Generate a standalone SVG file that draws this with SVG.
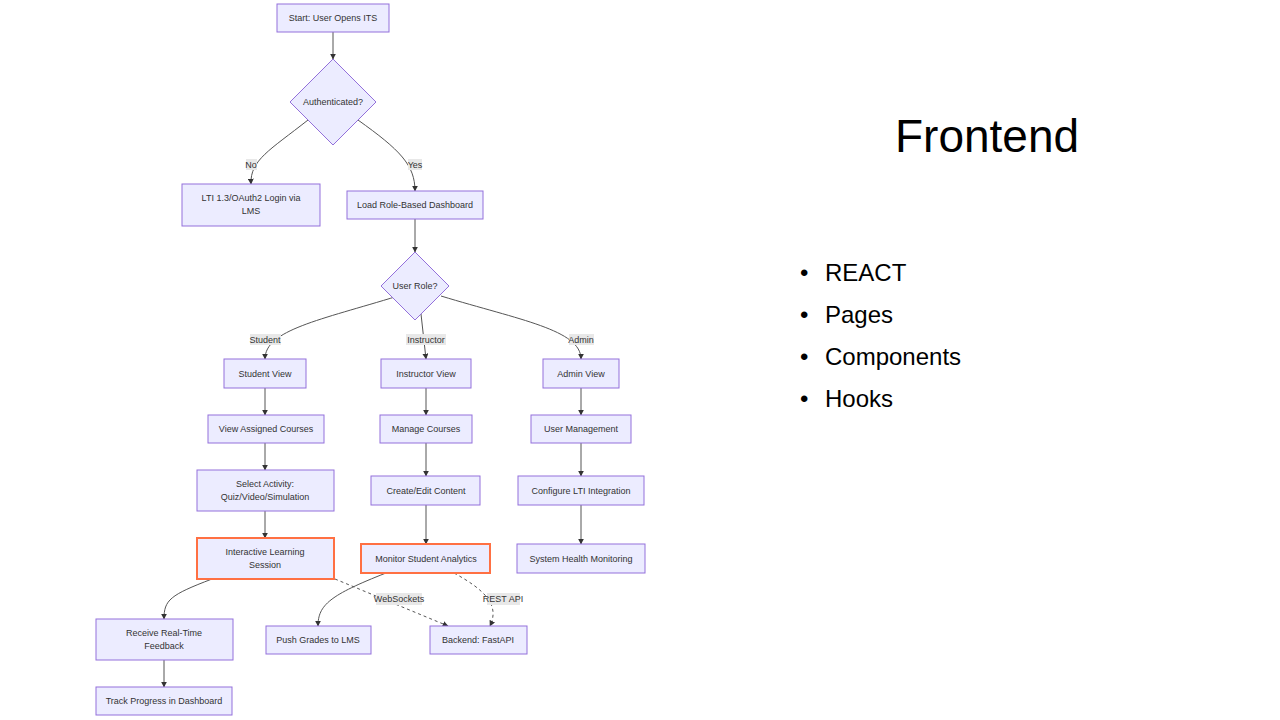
<svg xmlns="http://www.w3.org/2000/svg" width="1280" height="720" viewBox="0 0 1280 720">
<defs>
<style>
.n{fill:#ececff;stroke:#9370db;stroke-width:1}
.o{fill:#ececff;stroke:#ff7043;stroke-width:2}
text{font-family:"Liberation Sans",Arial,sans-serif;font-size:9px;fill:#333;text-anchor:middle}
.e{fill:none;stroke:#555;stroke-width:1;marker-end:url(#a)}
.d{stroke-dasharray:3,3}
.lb{fill:#e8e8e8}
text.big{font-family:"Liberation Sans",Arial,sans-serif;fill:#000;text-anchor:start;font-size:24px}
text.title{font-size:46px}
</style>
<marker id="a" viewBox="0 0 10 10" refX="9" refY="5" markerWidth="6" markerHeight="6" orient="auto"><path d="M0,0L10,5L0,10z" fill="#333"/></marker>
</defs>
<rect width="1280" height="720" fill="#fff"/>
<g id="connectors">
<path class="e" d="M333,32V59"/>
<path class="e" d="M308,120C270,150 250,160 251,184"/>
<path class="e" d="M358,120C400,150 415,165 415,191"/>
<path class="e" d="M415,219V252"/>
<path class="e" d="M398,296C320,320 265,330 265,359"/>
<path class="e" d="M421,314L426,359"/>
<path class="e" d="M441,296C520,320 581,330 581,359"/>
<path class="e" d="M265,388V415"/>
<path class="e" d="M426,388V415"/>
<path class="e" d="M581,388V415"/>
<path class="e" d="M265,443V470"/>
<path class="e" d="M426,443V476"/>
<path class="e" d="M581,443V476"/>
<path class="e" d="M265,511V538"/>
<path class="e" d="M426,505V544"/>
<path class="e" d="M581,505V544"/>
<path class="e" d="M212,579C170,595 164,600 164,619"/>
<path class="e" d="M164,660V687"/>
<path class="e d" d="M335,579L448,626"/>
<path class="e" d="M386,573C330,595 318,605 318,626"/>
<path class="e d" d="M454,573C485,590 500,605 490,626"/>
<rect class="lb" x="246" y="159" width="11" height="11"/><text x="251" y="168">No</text>
<rect class="lb" x="408" y="159" width="14" height="11"/><text x="415" y="168">Yes</text>
<rect class="lb" x="250" y="334" width="31" height="11"/><text x="265" y="343">Student</text>
<rect class="lb" x="406" y="334" width="40" height="11"/><text x="426" y="343">Instructor</text>
<rect class="lb" x="569" y="334" width="25" height="11"/><text x="581" y="343">Admin</text>
<rect class="lb" x="376" y="593" width="46" height="12"/><text x="399" y="602">WebSockets</text>
<rect class="lb" x="487" y="593" width="33" height="12"/><text x="503" y="602">REST API</text>
</g>
<g id="start"><rect class="n" x="277" y="4" width="112" height="28"/><text x="333" y="21">Start: User Opens ITS</text></g>
<g id="auth"><polygon class="n" points="333,59 376,102 333,145 290,102"/><text x="333" y="105">Authenticated?</text></g>
<g id="lti"><rect class="n" x="182" y="184" width="138" height="42"/><text x="251" y="201">LTI 1.3/OAuth2 Login via</text><text x="251" y="214">LMS</text></g>
<g id="load"><rect class="n" x="347" y="191" width="136" height="28"/><text x="415" y="208">Load Role-Based Dashboard</text></g>
<g id="role"><polygon class="n" points="415,252 449,286 415,320 381,286"/><text x="415" y="289">User Role?</text></g>
<g id="sv"><rect class="n" x="224" y="359" width="82" height="29"/><text x="265" y="377">Student View</text></g>
<g id="iv"><rect class="n" x="381" y="359" width="90" height="29"/><text x="426" y="377">Instructor View</text></g>
<g id="av"><rect class="n" x="543" y="359" width="76" height="29"/><text x="581" y="377">Admin View</text></g>
<g id="vac"><rect class="n" x="208" y="415" width="116" height="28"/><text x="266" y="432">View Assigned Courses</text></g>
<g id="mc"><rect class="n" x="380" y="415" width="92" height="28"/><text x="426" y="432">Manage Courses</text></g>
<g id="um"><rect class="n" x="531" y="415" width="100" height="28"/><text x="581" y="432">User Management</text></g>
<g id="sa"><rect class="n" x="197" y="470" width="137" height="41"/><text x="265" y="487">Select Activity:</text><text x="265" y="500">Quiz/Video/Simulation</text></g>
<g id="ce"><rect class="n" x="371" y="476" width="109" height="29"/><text x="426" y="494">Create/Edit Content</text></g>
<g id="cl"><rect class="n" x="518" y="476" width="126" height="29"/><text x="581" y="494">Configure LTI Integration</text></g>
<g id="ils"><rect class="o" x="197" y="538" width="137" height="41"/><text x="265" y="555">Interactive Learning</text><text x="265" y="568">Session</text></g>
<g id="msa"><rect class="o" x="361" y="544" width="129" height="29"/><text x="426" y="562">Monitor Student Analytics</text></g>
<g id="shm"><rect class="n" x="517" y="544" width="128" height="29"/><text x="581" y="562">System Health Monitoring</text></g>
<g id="rrf"><rect class="n" x="96" y="619" width="137" height="41"/><text x="164" y="636">Receive Real-Time</text><text x="164" y="649">Feedback</text></g>
<g id="pg"><rect class="n" x="266" y="626" width="105" height="28"/><text x="318" y="643">Push Grades to LMS</text></g>
<g id="be"><rect class="n" x="430" y="626" width="97" height="28"/><text x="478" y="643">Backend: FastAPI</text></g>
<g id="tp"><rect class="n" x="96" y="687" width="136" height="28"/><text x="164" y="704">Track Progress in Dashboard</text></g>
<g id="side">
<text class="big title" x="895" y="152">Frontend</text>
<text class="big" x="800" y="281">•</text><text class="big" x="825" y="281">REACT</text>
<text class="big" x="800" y="323">•</text><text class="big" x="825" y="323">Pages</text>
<text class="big" x="800" y="365">•</text><text class="big" x="825" y="365">Components</text>
<text class="big" x="800" y="407">•</text><text class="big" x="825" y="407">Hooks</text>
</g>
</svg>
